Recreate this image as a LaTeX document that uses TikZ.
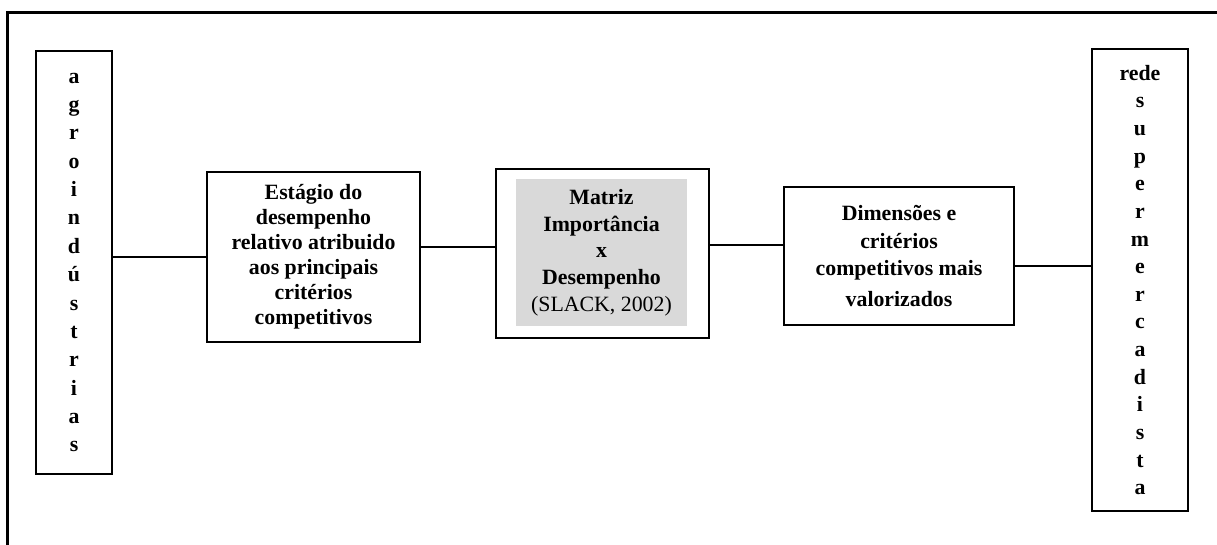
\documentclass[tikz,border=0pt]{standalone}
\usepackage{fontspec}
\setmainfont{Liberation Serif}
\usepackage{tikz}
\definecolor{matgray}{HTML}{D9D9D9}
\def\lnk{\draw[line width=0.8pt]}
\def\fs#1{\fontsize{12}{#1}\selectfont}

\begin{document}
\begin{tikzpicture}[x=0.55pt,y=-0.55pt,
    box/.style={draw,line width=0.8pt,align=center,inner sep=0pt,font=\bfseries}]
    \useasboundingbox (0,0) rectangle (1217,545);
    % moldura
    \draw[line width=1.7pt] (7.5,545) -- (7.5,12.5) -- (1217,12.5);
    % caixas
    \node[box,minimum width=41.8pt,minimum height=232.6pt,font=\bfseries\fs{15.6pt}] (agro) at (74,262.5)
        {a\\g\\r\\o\\i\\n\\d\\ú\\s\\t\\r\\i\\a\\s};
    \node[box,minimum width=117.2pt,minimum height=93.5pt,font=\bfseries\fs{13.75pt}] (estagio) at (313.5,257)
        {Estágio do\\desempenho\\relativo atribuido\\aos principais\\critérios\\competitivos};
    \node[box,minimum width=117.2pt,minimum height=93pt] (matriz) at (602.5,253.5) {};
    \node[fill=matgray,align=center,inner sep=0pt,minimum width=94pt,minimum height=80.9pt,font=\fs{14.7pt}] (matrizin) at (601.5,252.5)
        {\textbf{Matriz}\\\textbf{Importância}\\\textbf{x}\\\textbf{Desempenho}\\(SLACK, 2002)};
    \node[box,minimum width=126.5pt,minimum height=75.9pt,font=\bfseries\fs{15pt}] (dimensoes) at (899,256)
        {Dimensões e\\critérios\\competitivos mais\\[2pt]valorizados};
    \node[box,minimum width=52.8pt,minimum height=254.1pt,font=\bfseries\fs{15.2pt}] (rede) at (1140,280)
        {rede\\s\\u\\p\\e\\r\\m\\e\\r\\c\\a\\d\\i\\s\\t\\a};
    % ligacoes
    \lnk (agro.east |- estagio.west) -- (estagio.west);
    \lnk (estagio.east |- 0,247) -- (matriz.west |- 0,247);
    \lnk (matriz.east |- 0,245) -- (dimensoes.west |- 0,245);
    \lnk (dimensoes.east |- 0,266) -- (rede.west |- 0,266);
\end{tikzpicture}
\end{document}
